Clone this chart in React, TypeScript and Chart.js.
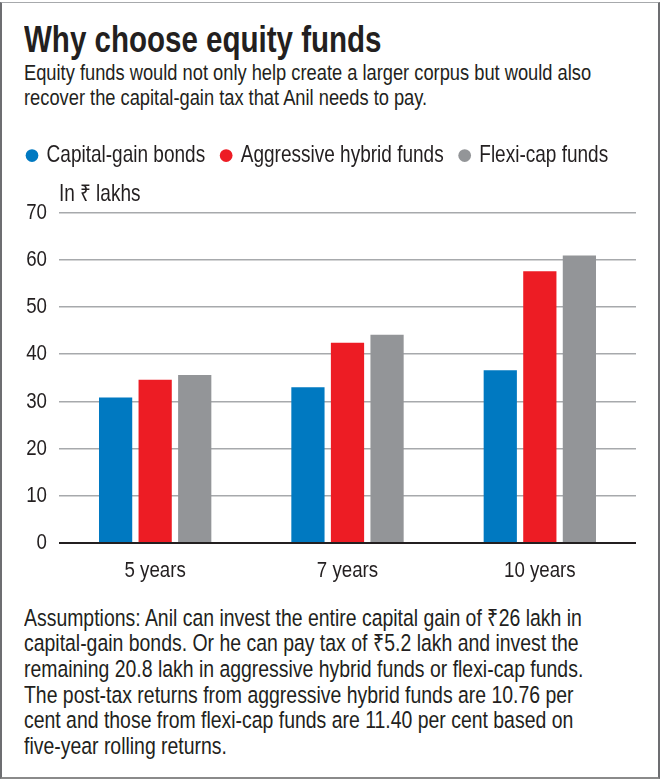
import React, { useEffect, useRef } from 'react';
import { Chart, registerables } from 'chart.js';

Chart.register(...registerables);

// ---- data ----
const categories = ['5 years', '7 years', '10 years'];
const capitalGainBonds = [30.8, 33.0, 36.6];
const aggressiveHybridFunds = [34.6, 42.4, 57.6];
const flexiCapFunds = [35.6, 44.1, 60.9];
const seriesNames = ['Capital-gain bonds', 'Aggressive hybrid funds', 'Flexi-cap funds'];
const yMin = 0;
const yMax = 70;
const yStep = 10;
const unitLabel = 'In ₹ lakhs';

// ---- styles ----
const seriesColors = ['#0079C1', '#ED1C24', '#939598'];
const FONT = "'Liberation Sans', Arial, sans-serif";
const TEXT = '#231F20';
const SX = 0.82; // condensed-face emulation (horizontal squeeze)
const FS_LEGEND = 23.2;
const FS_TICK = 22.8;

function condenseContext(ctx: CanvasRenderingContext2D) {
  const origFill = ctx.fillText.bind(ctx);
  const origMeasure = ctx.measureText.bind(ctx);
  (ctx as any).fillText = (text: string, x: number, y: number, maxWidth?: number) => {
    ctx.save();
    ctx.translate(x, y);
    ctx.scale(SX, 1);
    if (maxWidth !== undefined && maxWidth !== null) origFill(text, 0, 0, maxWidth / SX);
    else origFill(text, 0, 0);
    ctx.restore();
  };
  (ctx as any).measureText = (text: string) => {
    const m = origMeasure(text);
    return {
      width: m.width * SX,
      actualBoundingBoxAscent: m.actualBoundingBoxAscent,
      actualBoundingBoxDescent: m.actualBoundingBoxDescent,
      actualBoundingBoxLeft: m.actualBoundingBoxLeft * SX,
      actualBoundingBoxRight: m.actualBoundingBoxRight * SX,
      fontBoundingBoxAscent: (m as any).fontBoundingBoxAscent,
      fontBoundingBoxDescent: (m as any).fontBoundingBoxDescent,
    };
  };
}

export default function App() {
  const canvasRef = useRef<HTMLCanvasElement | null>(null);

  useEffect(() => {
    const canvas = canvasRef.current;
    if (!canvas) return;
    const ctx2d = canvas.getContext('2d');
    if (ctx2d && !(ctx2d as any).__condensed) {
      condenseContext(ctx2d);
      (ctx2d as any).__condensed = true;
    }
    const seriesValues = [capitalGainBonds, aggressiveHybridFunds, flexiCapFunds];
    const chart = new Chart(canvas, {
      type: 'bar',
      data: {
        labels: categories,
        datasets: seriesValues.map((vals, i) => ({
          label: seriesNames[i],
          data: vals,
          backgroundColor: seriesColors[i],
          borderWidth: 0,
          categoryPercentage: 0.617,
          barPercentage: 0.84,
          xAxisID: 'x',
          yAxisID: 'y',
        })),
      },
      options: {
        responsive: false,
        animation: false,
        devicePixelRatio: 1,
        layout: { padding: { left: 11, right: 24, top: 0, bottom: 0 } },
        plugins: {
          legend: {
            display: true,
            position: 'top',
            align: 'start',
            labels: {
              usePointStyle: true,
              pointStyle: 'circle',
              boxWidth: 6,
              boxHeight: 9,
              padding: 18,
              color: TEXT,
              font: { family: FONT, size: FS_LEGEND },
            },
          },
          tooltip: { enabled: false },
        },
        scales: {
          x: {
            type: 'category',
            position: 'bottom',
            offset: true,
            grid: { display: false, drawTicks: false },
            border: { display: false },
            ticks: { color: TEXT, font: { family: FONT, size: FS_TICK }, padding: 14, maxRotation: 0 },
            afterFit: (s: any) => { s.height = 51; },
          },
          x2: {
            type: 'category',
            position: 'top',
            labels: categories,
            grid: { display: false, drawTicks: false },
            border: { display: false },
            ticks: { display: false },
            title: {
              display: true,
              text: unitLabel,
              align: 'start',
              color: TEXT,
              font: { family: FONT, size: FS_LEGEND },
              padding: { top: 3, bottom: 0 },
            },
            afterFit: (s: any) => { s.height = 35.4; },
          },
          y: {
            min: yMin,
            max: yMax,
            ticks: { stepSize: yStep, color: TEXT, font: { family: FONT, size: FS_TICK }, padding: 12 },
            grid: {
              drawTicks: false,
              color: (ctx: any) => (ctx.tick && ctx.tick.value === 0 ? '#231F20' : '#A7A9AC'),
              lineWidth: (ctx: any) => (ctx.tick && ctx.tick.value === 0 ? 2 : 1.5),
            },
            border: { display: false },
            afterFit: (s: any) => { s.width = 48; },
          },
        },
      } as any,
    });
    return () => chart.destroy();
  }, []);

  const base: React.CSSProperties = {
    position: 'absolute',
    left: 24,
    color: TEXT,
    fontFamily: FONT,
    whiteSpace: 'nowrap',
    margin: 0,
    transform: `scaleX(${SX})`,
    transformOrigin: 'left top',
  };

  return (
    <div style={{ position: 'absolute', left: 0, top: 0, width: 660, height: 779, background: '#fff', overflow: 'hidden' }}>
      <div
        style={{
          position: 'absolute',
          left: 0,
          top: 2,
          width: 660,
          height: 777,
          boxSizing: 'border-box',
          borderLeft: '2px solid #6d6e71',
          borderRight: '2px solid #6d6e71',
          borderTop: '1px solid #a7a9ac',
          borderBottom: '2px solid #8a8a8a',
        }}
      />
      <div style={{ ...base, top: 21.5, fontSize: 36, lineHeight: '36px', fontWeight: 'bold' }}>
        Why choose equity funds
      </div>
      <div style={{ ...base, top: 59.8, fontSize: 22.3, lineHeight: '25px' }}>
        Equity funds would not only help create a larger corpus but would also
        <br />
        recover the capital-gain tax that Anil needs to pay.
      </div>
      <canvas
        ref={canvasRef}
        width={660}
        height={468}
        style={{ position: 'absolute', left: 0, top: 126.4, width: 660, height: 468 }}
      />
      <div style={{ ...base, top: 605.5, fontSize: 23.7, lineHeight: '25.7px' }}>
        Assumptions: Anil can invest the entire capital gain of ₹26 lakh in
        <br />
        capital-gain bonds. Or he can pay tax of ₹5.2 lakh and invest the
        <br />
        remaining 20.8 lakh in aggressive hybrid funds or flexi-cap funds.
        <br />
        The post-tax returns from aggressive hybrid funds are 10.76 per
        <br />
        cent and those from flexi-cap funds are 11.40 per cent based on
        <br />
        five-year rolling returns.
      </div>
    </div>
  );
}
